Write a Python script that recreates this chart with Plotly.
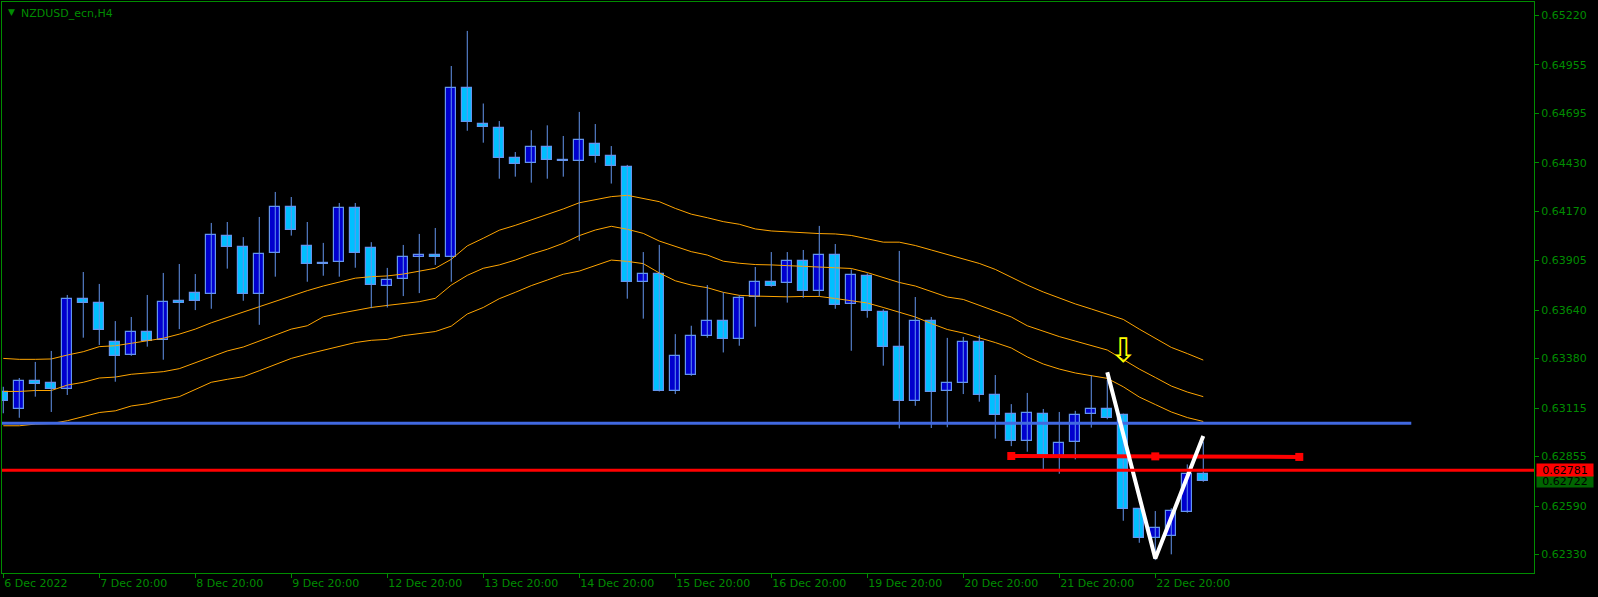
import plotly.graph_objects as go

# ---------------- data (NZDUSD_ecn, H4) ----------------
opens = [0.63202, 0.63111, 0.63260, 0.63249, 0.63215, 0.63698, 0.63678, 0.63467, 0.63398, 0.63525,
         0.63478, 0.63688, 0.63731, 0.63726, 0.64035, 0.63977, 0.63726, 0.63944, 0.64191, 0.63982,
         0.63887, 0.63896, 0.64185, 0.63971, 0.63767, 0.63805, 0.63923, 0.63934, 0.63923, 0.64829,
         0.64636, 0.64615, 0.64453, 0.64427, 0.64513, 0.64443, 0.64438, 0.64529, 0.64464, 0.64407,
         0.63792, 0.63832, 0.63209, 0.63291, 0.63500, 0.63584, 0.63483, 0.63708, 0.63789, 0.63784,
         0.63901, 0.63741, 0.63934, 0.63671, 0.63821, 0.63629, 0.63441, 0.63154, 0.63580, 0.63209,
         0.63248, 0.63467, 0.63183, 0.63081, 0.62940, 0.63082, 0.62845, 0.62931, 0.63081, 0.63108,
         0.63078, 0.62572, 0.62417, 0.62427, 0.62559, 0.62761]
highs = [0.63229, 0.63276, 0.63362, 0.63421, 0.63721, 0.63844, 0.63780, 0.63581, 0.63603, 0.63721,
         0.63839, 0.63887, 0.63833, 0.64107, 0.64112, 0.64031, 0.64139, 0.64273, 0.64246, 0.64112,
         0.64000, 0.64214, 0.64214, 0.64004, 0.63866, 0.63989, 0.64048, 0.64080, 0.64948, 0.65136,
         0.64747, 0.64653, 0.64487, 0.64604, 0.64630, 0.64573, 0.64702, 0.64637, 0.64519, 0.64418,
         0.63951, 0.63989, 0.63511, 0.63556, 0.63774, 0.63735, 0.63719, 0.63871, 0.63951, 0.63951,
         0.63962, 0.64091, 0.63994, 0.63858, 0.63837, 0.63644, 0.63957, 0.63710, 0.63603, 0.63491,
         0.63496, 0.63505, 0.63292, 0.63136, 0.63196, 0.63110, 0.63094, 0.63100, 0.63288, 0.63266,
         0.63085, 0.62579, 0.62563, 0.62578, 0.62813, 0.62935]
lows = [0.63087, 0.63063, 0.63176, 0.63094, 0.63185, 0.63492, 0.63453, 0.63256, 0.63395, 0.63444,
        0.63374, 0.63538, 0.63640, 0.63647, 0.63862, 0.63690, 0.63561, 0.63819, 0.64039, 0.63792,
        0.63824, 0.63819, 0.63867, 0.63650, 0.63654, 0.63715, 0.63731, 0.63882, 0.63792, 0.64601,
        0.64537, 0.64344, 0.64355, 0.64323, 0.64344, 0.64355, 0.64012, 0.64430, 0.64318, 0.63701,
        0.63594, 0.63204, 0.63190, 0.63288, 0.63492, 0.63413, 0.63449, 0.63551, 0.63765, 0.63680,
        0.63706, 0.63715, 0.63647, 0.63422, 0.63599, 0.63342, 0.63006, 0.63127, 0.63008, 0.63012,
        0.63190, 0.63149, 0.62951, 0.62911, 0.62881, 0.62788, 0.62763, 0.62840, 0.63010, 0.63055,
        0.62511, 0.62393, 0.62300, 0.62331, 0.62554, 0.62720]
closes = [0.63154, 0.63258, 0.63246, 0.63215, 0.63698, 0.63676, 0.63532, 0.63392, 0.63524, 0.63473,
          0.63684, 0.63680, 0.63687, 0.64041, 0.63977, 0.63726, 0.63939, 0.64191, 0.64071, 0.63886,
          0.63895, 0.64185, 0.63944, 0.63773, 0.63801, 0.63923, 0.63934, 0.63923, 0.64829, 0.64647,
          0.64620, 0.64453, 0.64424, 0.64513, 0.64442, 0.64441, 0.64550, 0.64464, 0.64412, 0.63792,
          0.63832, 0.63204, 0.63392, 0.63500, 0.63584, 0.63483, 0.63703, 0.63789, 0.63771, 0.63901,
          0.63741, 0.63934, 0.63669, 0.63826, 0.63635, 0.63441, 0.63154, 0.63580, 0.63202, 0.63248,
          0.63467, 0.63183, 0.63079, 0.62940, 0.63087, 0.62845, 0.62926, 0.63076, 0.63108, 0.63060,
          0.62572, 0.62417, 0.62470, 0.62561, 0.62760, 0.62722]

env_upper = [0.63381, 0.63376, 0.63376, 0.63378, 0.63399, 0.63417, 0.63444, 0.63449, 0.63462, 0.63474,
             0.63489, 0.63511, 0.63538, 0.63572, 0.63601, 0.63626, 0.63658, 0.63685, 0.63717, 0.63744,
             0.63769, 0.63791, 0.63811, 0.63819, 0.63823, 0.63833, 0.63850, 0.63864, 0.63912, 0.63984,
             0.64025, 0.64068, 0.64094, 0.64123, 0.64154, 0.64182, 0.64215, 0.64232, 0.64248, 0.64255,
             0.64237, 0.64221, 0.64185, 0.64154, 0.64135, 0.64114, 0.64100, 0.64075, 0.64064, 0.64059,
             0.64053, 0.64050, 0.64048, 0.64040, 0.64022, 0.64004, 0.64004, 0.63986, 0.63962, 0.63938,
             0.63914, 0.63890, 0.63858, 0.63815, 0.63774, 0.63737, 0.63705, 0.63673, 0.63646, 0.63619,
             0.63590, 0.63538, 0.63491, 0.63440, 0.63407, 0.63372]
env_mid = [0.63204, 0.63204, 0.63209, 0.63209, 0.63238, 0.63253, 0.63276, 0.63281, 0.63296, 0.63301,
           0.63310, 0.63326, 0.63358, 0.63391, 0.63421, 0.63442, 0.63474, 0.63510, 0.63538, 0.63556,
           0.63604, 0.63622, 0.63638, 0.63654, 0.63665, 0.63673, 0.63685, 0.63703, 0.63774, 0.63826,
           0.63864, 0.63882, 0.63908, 0.63940, 0.63966, 0.63998, 0.64039, 0.64069, 0.64089, 0.64073,
           0.64051, 0.64010, 0.63980, 0.63953, 0.63935, 0.63902, 0.63891, 0.63884, 0.63882, 0.63878,
           0.63874, 0.63871, 0.63868, 0.63863, 0.63841, 0.63815, 0.63788, 0.63769, 0.63740, 0.63710,
           0.63697, 0.63665, 0.63633, 0.63603, 0.63556, 0.63525, 0.63498, 0.63474, 0.63451, 0.63426,
           0.63375, 0.63324, 0.63279, 0.63233, 0.63201, 0.63176]
env_lower = [0.63020, 0.63020, 0.63029, 0.63032, 0.63047, 0.63069, 0.63091, 0.63100, 0.63126, 0.63138,
             0.63160, 0.63176, 0.63215, 0.63253, 0.63269, 0.63283, 0.63315, 0.63346, 0.63381, 0.63404,
             0.63426, 0.63444, 0.63466, 0.63478, 0.63483, 0.63503, 0.63515, 0.63525, 0.63554, 0.63619,
             0.63654, 0.63701, 0.63735, 0.63771, 0.63801, 0.63832, 0.63849, 0.63878, 0.63908, 0.63901,
             0.63889, 0.63839, 0.63797, 0.63774, 0.63760, 0.63735, 0.63719, 0.63715, 0.63713, 0.63711,
             0.63713, 0.63713, 0.63702, 0.63691, 0.63678, 0.63654, 0.63627, 0.63603, 0.63568, 0.63536,
             0.63517, 0.63493, 0.63466, 0.63437, 0.63389, 0.63351, 0.63324, 0.63303, 0.63288, 0.63274,
             0.63229, 0.63174, 0.63134, 0.63094, 0.63064, 0.63043]

x_tick_index = [0, 6, 12, 18, 24, 30, 36, 42, 48, 54, 60, 66, 72]
x_tick_labels = ["6 Dec 2022", "7 Dec 20:00", "8 Dec 20:00", "9 Dec 20:00", "12 Dec 20:00",
                 "13 Dec 20:00", "14 Dec 20:00", "15 Dec 20:00", "16 Dec 20:00", "19 Dec 20:00",
                 "20 Dec 20:00", "21 Dec 20:00", "22 Dec 20:00"]
y_tick_values = [0.65220, 0.64955, 0.64695, 0.64430, 0.64170, 0.63905, 0.63640,
                 0.63380, 0.63115, 0.62855, 0.62590, 0.62330]

blue_level = 0.63033          # blue trend line (horizontal)
blue_x = [-1, 88]
red_level = 0.62781           # red horizontal line (Bid line)
last_price = 0.62722
red_seg_x = [63, 72, 81]
red_seg_y = [0.62858, 0.62856, 0.62853]
zigzag_x = [69, 72, 75]
zigzag_y = [0.63307, 0.62309, 0.62965]
arrow_x, arrow_y = 70, 0.63426

# ---------------- styling ----------------
GREEN = "#008c00"
BULL = "#0000CD"
BEAR = "#00BFFF"
WICK = "#6495ED"
FONT = "DejaVu Sans"

n = len(opens)
idx = list(range(n))

fig = go.Figure()

# envelope / moving average lines
for series in (env_upper, env_mid, env_lower):
    fig.add_trace(go.Scatter(x=idx, y=series, mode="lines",
                             line=dict(color="#FFA500", width=1), hoverinfo="skip"))

# wicks
wx, wy = [], []
for i in idx:
    wx += [i, i, None]
    wy += [lows[i], highs[i], None]
fig.add_trace(go.Scatter(x=wx, y=wy, mode="lines", line=dict(color=WICK, width=1),
                         hoverinfo="skip"))

# bodies
base = [min(o, c) for o, c in zip(opens, closes)]
height = [max(abs(c - o), 0.00001) for o, c in zip(opens, closes)]
colors = [BULL if c >= o else BEAR for o, c in zip(opens, closes)]
fig.add_trace(go.Bar(x=idx, y=height, base=base, width=0.62,
                     marker=dict(color=colors, line=dict(color=WICK, width=1.2)),
                     hoverinfo="skip"))

# blue horizontal trendline
fig.add_trace(go.Scatter(x=blue_x, y=[blue_level, blue_level], mode="lines",
                         line=dict(color="#4169E1", width=3), hoverinfo="skip"))

# red bid line across the chart
fig.add_shape(type="line", xref="paper", x0=0, x1=1, yref="y", y0=red_level, y1=red_level,
              line=dict(color="#FF0000", width=3))

# red segment with square markers
fig.add_trace(go.Scatter(x=red_seg_x, y=red_seg_y, mode="lines+markers",
                         line=dict(color="#FF0000", width=4),
                         marker=dict(symbol="square", size=8, color="#FF0000"),
                         hoverinfo="skip"))

# white zigzag
fig.add_trace(go.Scatter(x=zigzag_x, y=zigzag_y, mode="lines",
                         line=dict(color="#FFFFFF", width=4), hoverinfo="skip"))

# yellow arrow
fig.add_annotation(x=arrow_x, y=arrow_y, xref="x", yref="y", text="⇩", showarrow=False,
                   font=dict(family=FONT, size=34, color="#FFFF00"),
                   xanchor="center", yanchor="middle")

# title
fig.add_annotation(xref="paper", yref="paper", x=0, y=1, xanchor="left", yanchor="middle",
                   xshift=4, yshift=-10, text="▼", showarrow=False,
                   font=dict(family=FONT, size=9, color=GREEN))
fig.add_annotation(xref="paper", yref="paper", x=0, y=1, xanchor="left", yanchor="middle",
                   xshift=17, yshift=-11, text="NZDUSD_ecn,H4", showarrow=False,
                   font=dict(family=FONT, size=11, color=GREEN))

# price labels on the axis
fig.add_annotation(xref="paper", yref="y", x=1, y=last_price, xanchor="left", yanchor="middle",
                   xshift=2, text=f"{last_price:.5f}", showarrow=False, bgcolor="#006400",
                   width=56, height=12, borderpad=0,
                   font=dict(family=FONT, size=11, color="#000000"))
fig.add_annotation(xref="paper", yref="y", x=1, y=red_level, xanchor="left", yanchor="middle",
                   xshift=2, text=f"{red_level:.5f}", showarrow=False, bgcolor="#FF0000",
                   width=56, height=12, borderpad=0,
                   font=dict(family=FONT, size=11, color="#000000"))

fig.update_layout(
    width=1598, height=597, autosize=False,
    paper_bgcolor="#000000", plot_bgcolor="#000000",
    margin=dict(l=2, r=64, t=2, b=24),
    showlegend=False, bargap=0, hovermode=False,
    font=dict(family=FONT, size=11, color=GREEN),
    xaxis=dict(range=[-0.08, 95.67], tickvals=x_tick_index, ticktext=x_tick_labels,
               showgrid=False, zeroline=False, showline=True, mirror=True,
               linecolor=GREEN, linewidth=1, ticks="outside", ticklen=4, tickcolor=GREEN,
               ticklabelposition="outside right",
               tickfont=dict(family=FONT, size=11, color=GREEN)),
    yaxis=dict(range=[0.62231, 0.65291], side="right", tickvals=y_tick_values,
               ticktext=[f"{v:.5f}" for v in y_tick_values],
               showgrid=False, zeroline=False, showline=True, mirror=True,
               linecolor=GREEN, linewidth=1, ticks="outside", ticklen=4, tickcolor=GREEN,
               tickfont=dict(family=FONT, size=11, color=GREEN)),
)

fig.write_html("out.html", config={"displayModeBar": False},
               post_script="document.body.style.margin='0';document.body.style.overflow='hidden';")
